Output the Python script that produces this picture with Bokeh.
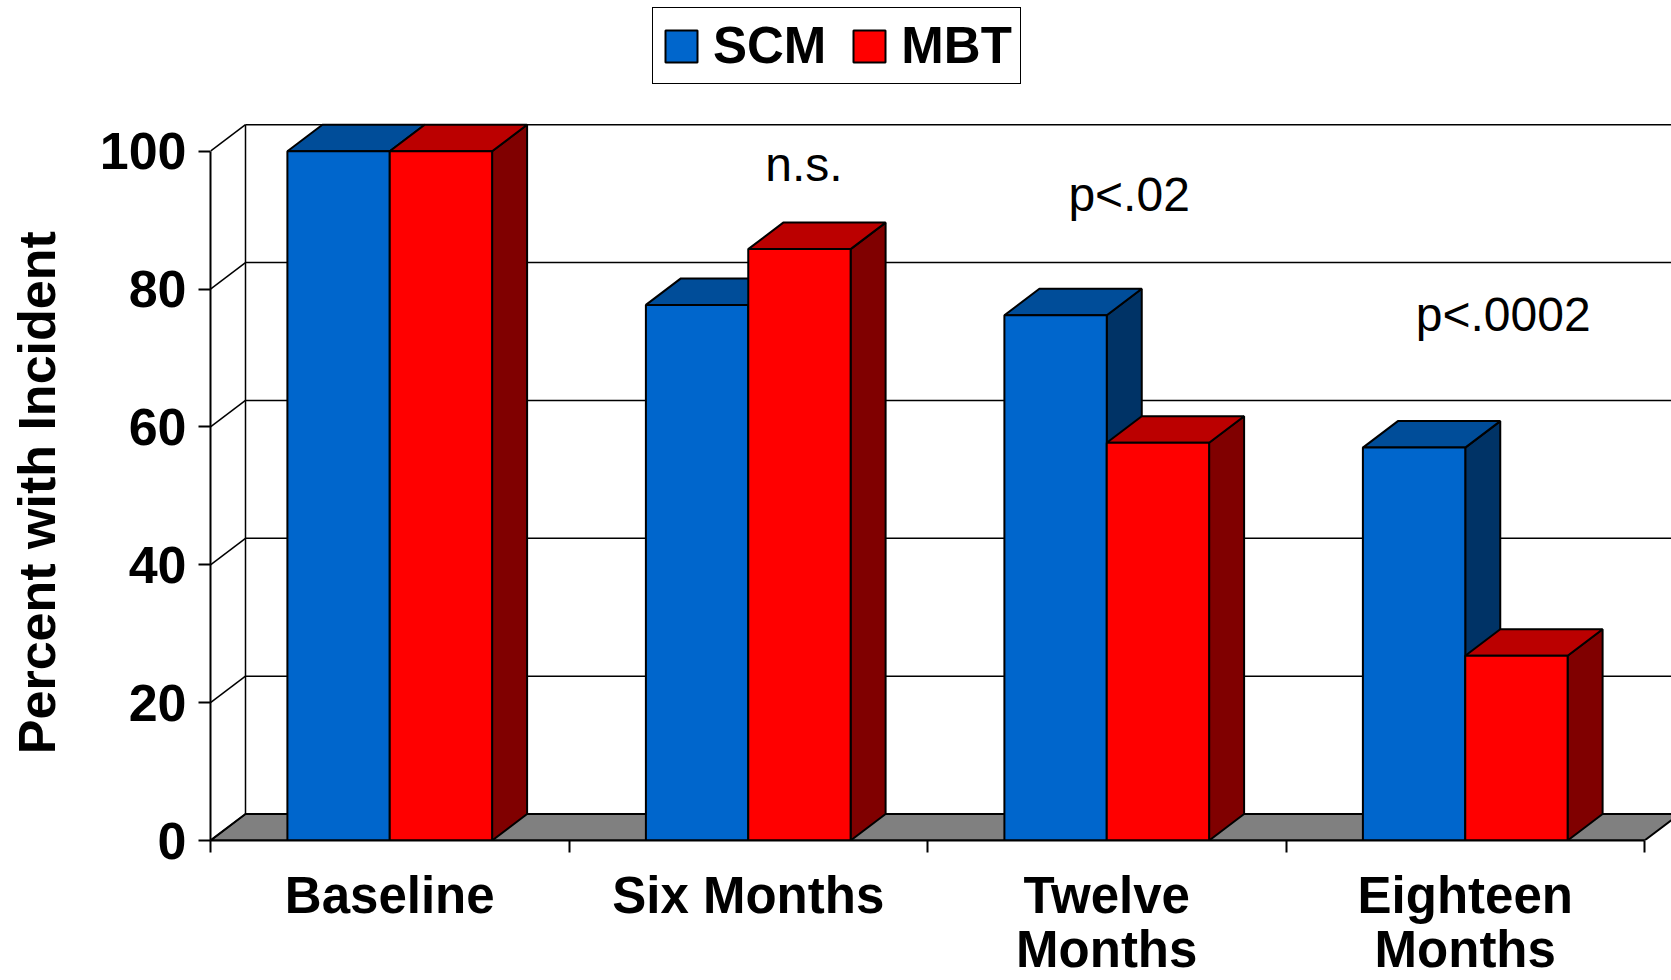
import numpy as np
from bokeh.plotting import figure
from bokeh.models import Range1d, FixedTicker, Legend, LegendItem
from bokeh.core.properties import value
from bokeh.embed import file_html
from bokeh.resources import INLINE

# ---------------- data ----------------
categories = ["Baseline", "Six Months", "Twelve\nMonths", "Eighteen\nMonths"]
series_names = ["SCM", "MBT"]
scm = [100, 77.7, 76.2, 57.0]
mbt = [100, 85.8, 57.7, 26.8]
y_ticks = [0, 20, 40, 60, 80, 100]
y_title = "Percent with Incident"
annotations = ["n.s.", "p<.02", "p<.0002"]

# ---------------- geometry / style ----------------
W, H = 1671, 980
FL, FB = 210, 140
frame_w = W - FL
frame_h = H - FB
PX_X = 358.5
PX_Y = (frame_h - 150.7) / 100.0
x_end = frame_w / PX_X
y_end = frame_h / PX_Y
DX = 35.0 / PX_X          # depth offset (data units)
DY = 26.5 / PX_Y
BW = 0.2855               # bar width

BLUE, BLUE_TOP, BLUE_SIDE = "#0066CC", "#004D99", "#003366"
RED, RED_TOP, RED_SIDE = "#FF0000", "#BB0000", "#800000"
FLOOR = "#808080"
FONT = "Liberation Sans"

p = figure(width=W, height=H, x_range=Range1d(0, x_end), y_range=Range1d(0, y_end),
           output_backend="svg", toolbar_location=None,
           min_border_left=FL, min_border_right=0, min_border_top=0, min_border_bottom=FB)
p.xgrid.visible = False
p.ygrid.visible = False
p.outline_line_color = None
p.background_fill_color = "white"
p.border_fill_color = "white"

n = len(categories)

# floor
p.patch([0, n, n + DX, DX], [0, 0, DY, DY], fill_color=FLOOR, line_color="black", line_width=2)

# back wall grid lines and left wall diagonals
for t in y_ticks:
    if t > 0:
        p.line([DX, n + DX + 1], [t + DY, t + DY], line_color="black", line_width=1.5)
    p.line([0, DX], [t, t + DY], line_color="black", line_width=1.5)
p.line([DX, DX], [DY, max(y_ticks) + DY], line_color="black", line_width=1.5)

idx = np.arange(n)
xb0 = idx + 0.5 - BW   # blue left edge
xr0 = idx + 0.5        # red left edge


def side_faces(x0, vals):
    xs, ys = [], []
    for a, v in zip(x0, vals):
        r = a + BW
        xs.append([r, r + DX, r + DX, r])
        ys.append([0, DY, v + DY, v])
    return xs, ys


def top_faces(x0, vals):
    xs, ys = [], []
    for a, v in zip(x0, vals):
        xs.append([a, a + BW, a + BW + DX, a + DX])
        ys.append([v, v, v + DY, v + DY])
    return xs, ys


sx, sy = side_faces(xb0, scm)
p.patches(sx, sy, fill_color=BLUE_SIDE, line_color="black", line_width=2)
tx, ty = top_faces(xb0, scm)
p.patches(tx, ty, fill_color=BLUE_TOP, line_color="black", line_width=2)
r_scm = p.vbar(x=xb0 + BW / 2, width=BW, top=scm, bottom=0,
               fill_color=BLUE, line_color="black", line_width=2)

sx, sy = side_faces(xr0, mbt)
p.patches(sx, sy, fill_color=RED_SIDE, line_color="black", line_width=2)
tx, ty = top_faces(xr0, mbt)
p.patches(tx, ty, fill_color=RED_TOP, line_color="black", line_width=2)
r_mbt = p.vbar(x=xr0 + BW / 2, width=BW, top=mbt, bottom=0,
               fill_color=RED, line_color="black", line_width=2)

# annotations (significance)
ann_x = [1.6555, 2.5624, 3.6058]
ann_y = [98.1, 93.7, 76.3]
p.text(x=ann_x, y=ann_y, text=annotations, text_font=value(FONT), text_font_size="48px",
       text_align="center", text_baseline="alphabetic", text_color="black")

# y axis
ya = p.yaxis[0]
ya.ticker = FixedTicker(ticks=y_ticks, minor_ticks=[])
ya.bounds = (0, 100)
ya.axis_line_color = "black"
ya.axis_line_width = 2
ya.major_tick_out = 12
ya.major_tick_in = 0
ya.major_tick_line_width = 2
ya.major_label_standoff = 12
ya.major_label_text_font = FONT
ya.major_label_text_font_style = "bold"
ya.major_label_text_font_size = "52px"
ya.major_label_text_color = "black"
# the title is centred on the 0-100 span: pad its end with no-break spaces
ya.axis_label = y_title + "\u00a0" * 10
ya.axis_label_standoff = 31
ya.axis_label_text_font = FONT
ya.axis_label_text_font_style = "bold"
ya.axis_label_text_font_size = "52px"
ya.axis_label_text_color = "black"

# x axis: tick marks at category boundaries, labels at category centres
xa = p.xaxis[0]
xa.ticker = FixedTicker(ticks=[float(i) + 0.5 for i in idx], minor_ticks=list(range(n + 1)))
xa.bounds = (0, n)
xa.axis_line_color = "black"
xa.axis_line_width = 2
xa.major_tick_out = 0
xa.major_tick_in = 0
xa.minor_tick_out = 12
xa.minor_tick_in = 0
xa.minor_tick_line_width = 2
xa.minor_tick_line_color = "black"
xa.major_label_overrides = {float(i) + 0.5: c for i, c in zip(idx, categories)}
xa.major_label_standoff = 14
xa.major_label_text_font = FONT
xa.major_label_text_font_style = "bold"
xa.major_label_text_font_size = "51px"
xa.major_label_text_color = "black"
xa.major_label_text_line_height = 0.95

legend = Legend(items=[LegendItem(label=series_names[0], renderers=[r_scm]),
                       LegendItem(label=series_names[1], renderers=[r_mbt])],
                orientation="horizontal", location=(442, frame_h - 9 - 75),
                glyph_width=40, glyph_height=40, label_standoff=12, spacing=23,
                padding=8, margin=0, border_line_color="black", border_line_width=1.5,
                border_line_alpha=1.0,
                label_text_font=FONT, label_text_font_style="bold", label_text_font_size="51px",
                label_text_color="black",
                background_fill_color="white", background_fill_alpha=1.0)
p.add_layout(legend)

open("out.html", "w").write(file_html(p, INLINE))
